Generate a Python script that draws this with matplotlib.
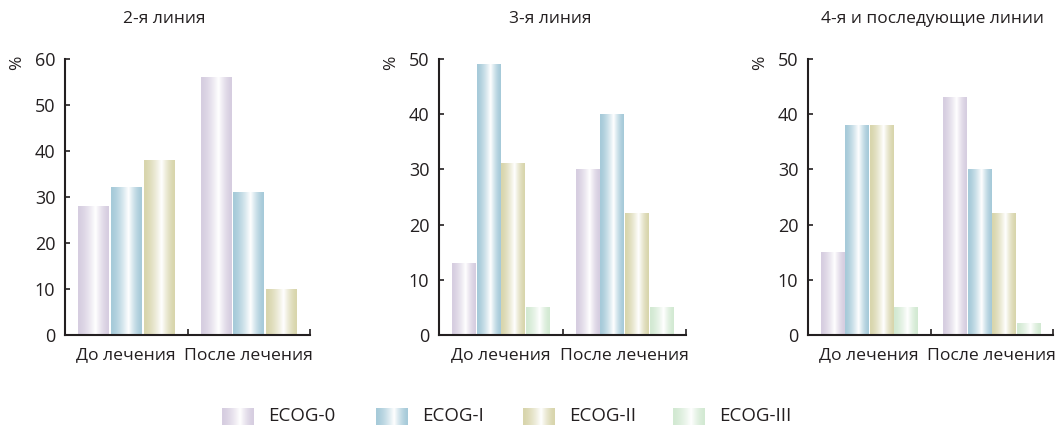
import numpy as np
import matplotlib
matplotlib.use("Agg")
import matplotlib.pyplot as plt
from matplotlib.colors import to_rgb

plt.rcParams["font.family"] = ["Open Sans", "DejaVu Sans"]

# ---- data -------------------------------------------------------------
groups = ["До лечения", "После лечения"]
series_names = ["ECOG-0", "ECOG-I", "ECOG-II", "ECOG-III"]
series_colors = ["#d6cde0", "#a6cad9", "#d8d5ac", "#d2e9d2"]

titles = ["2-я линия", "3-я линия", "4-я и последующие линии"]

line2 = {"ECOG-0": [28, 56], "ECOG-I": [32, 31], "ECOG-II": [38, 10]}
line3 = {"ECOG-0": [13, 30], "ECOG-I": [49, 40], "ECOG-II": [31, 22], "ECOG-III": [5, 5]}
line4 = {"ECOG-0": [15, 43], "ECOG-I": [38, 30], "ECOG-II": [38, 22], "ECOG-III": [5, 2]}
panels = [line2, line3, line4]

y_max = [60, 50, 50]
y_ticks = [[0, 10, 20, 30, 40, 50, 60], [0, 10, 20, 30, 40, 50], [0, 10, 20, 30, 40, 50]]

INK = "#231f20"


def gradient_image(color, n=64):
    """Horizontal 'cylinder' shading: tinted edges, white highlight right of centre."""
    c = np.array(to_rgb(color))
    t = np.linspace(0, 1, n)
    peak = 0.57
    w = np.where(t < peak, t / peak, (1 - t) / (1 - peak))
    w = np.clip(w, 0, 1) ** 1.5
    rgb = c[None, :] * (1 - w[:, None]) + np.ones(3)[None, :] * w[:, None]
    return rgb[None, :, :]


W, H = 1060, 426
fig = plt.figure(figsize=(W / 100, H / 100), dpi=100)

ax_left_px = [65, 439, 808]
ax_width_px = [245, 247, 245]
ax_bottom = (H - 335) / H
ax_height = (335 - 59) / H
title_x_px = [164, 550, 932]

for i, data in enumerate(panels):
    ax = fig.add_axes([ax_left_px[i] / W, ax_bottom, ax_width_px[i] / W, ax_height])
    names = [s for s in series_names if s in data]
    n = len(names)
    slot = 0.8 / n
    x = np.arange(len(groups))
    for j, name in enumerate(names):
        color = series_colors[series_names.index(name)]
        offs = -0.4 + slot * (j + 0.5)
        bars = ax.bar(x + offs, data[name], width=slot * 0.94, color="none",
                      edgecolor="none", zorder=2)
        img = gradient_image(color)
        for rect in bars:
            x0 = rect.get_x()
            ax.imshow(img, extent=(x0, x0 + rect.get_width(), 0, rect.get_height()),
                      aspect="auto", interpolation="bilinear", zorder=2)

    ax.set_xlim(-0.5, len(groups) - 0.5)
    ax.set_ylim(0, y_max[i])
    ax.set_yticks(y_ticks[i])
    ax.set_xticks(x)
    ax.set_xticklabels(groups)
    ax.set_xticks(np.arange(len(groups)) + 0.5, minor=True)

    for side in ["top", "right"]:
        ax.spines[side].set_visible(False)
    for side in ["left", "bottom"]:
        ax.spines[side].set_linewidth(1.5)
        ax.spines[side].set_color(INK)

    ax.tick_params(axis="y", direction="in", length=3.5, width=1.2, color=INK,
                   labelsize=13, labelcolor=INK, pad=7)
    ax.tick_params(axis="x", which="major", length=0, labelsize=12.6,
                   labelcolor=INK, pad=9)
    ax.tick_params(axis="x", which="minor", direction="in", length=4, width=1.2,
                   color=INK)

    fig.text((ax_left_px[i] - 48) / W, (H - 63) / H, "%", rotation=90,
             ha="center", va="center", fontsize=12.5, color=INK)
    fig.text(title_x_px[i] / W, (H - 19) / H, titles[i], ha="center", va="center",
             fontsize=12.5, color=INK)

# ---- legend -------------------------------------------------------------
leg = fig.add_axes([0, 0, 1, 1], zorder=-1)
leg.axis("off")
patch_left = [222, 376, 523, 673]
for k, name in enumerate(series_names):
    x0 = patch_left[k]
    leg.imshow(gradient_image(series_colors[k]), extent=(x0, x0 + 32, 425, 408),
               aspect="auto", interpolation="bilinear")
    leg.text(x0 + 46, 416, name, ha="left", va="center", fontsize=13.5, color=INK)
leg.set_xlim(0, W)
leg.set_ylim(H, 0)

fig.savefig("out.png", dpi=100)
